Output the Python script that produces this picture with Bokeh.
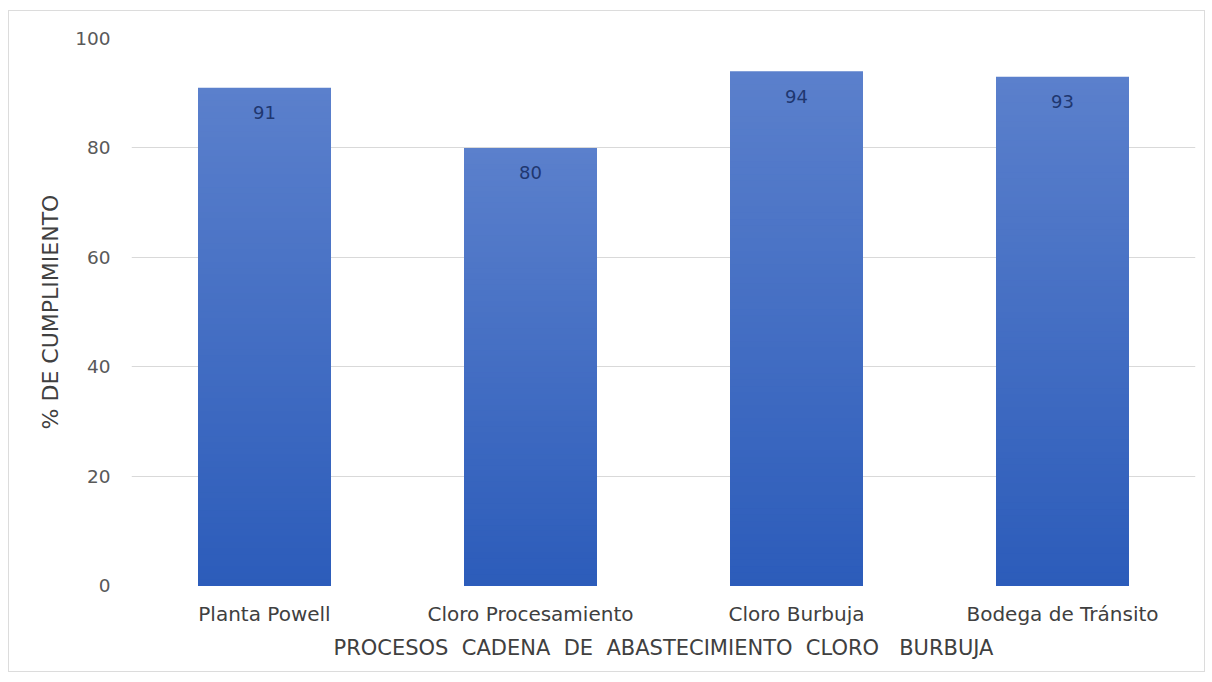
import numpy as np
from bokeh.plotting import figure
from bokeh.models import FactorRange, FixedTicker, ColumnDataSource
from bokeh.core.properties import value
from bokeh.embed import file_html
from bokeh.resources import INLINE

# Compliance per process of the chlorine supply chain
categories = ["Planta Powell", "Cloro Procesamiento", "Cloro Burbuja", "Bodega de Tránsito"]
cumplimiento = [91, 80, 94, 93]
y_ticks = [0, 20, 40, 60, 80, 100]

FONT = "DejaVu Sans"
BOTTOM_RGB = np.array([0x2c, 0x5c, 0xba])
TOP_RGB = np.array([0x5b, 0x80, 0xcc])
N_SLICES = 80
NB = "\u00a0"

p = figure(
    x_range=FactorRange(*categories, range_padding=0.0),
    y_range=(0, 100),
    frame_width=1064, frame_height=547,
    min_border_left=122, min_border_right=9,
    min_border_top=27, min_border_bottom=86,
    output_backend="svg", toolbar_location=None,
    background_fill_color="white", border_fill_color="white",
)
p.margin = (10, 0, 0, 8)
p.styles = {"border": "1px solid #dcdcdc"}
p.outline_line_color = None

# Vertical gradient bars: every bar is painted as a set of rectangles that all
# start at zero, tallest (lightest) first, so the shorter darker ones cover
# the lower part and the colour fades from the base to the top of the bar.
xs, tops, colors = [], [], []
for cat, v in zip(categories, cumplimiento):
    edges = np.linspace(0, v, N_SLICES + 1)[1:]
    for i in range(N_SLICES - 1, -1, -1):
        t = (i + 0.5) / N_SLICES
        rgb = (BOTTOM_RGB + (TOP_RGB - BOTTOM_RGB) * t).round().astype(int)
        xs.append(cat)
        tops.append(edges[i])
        colors.append("#%02x%02x%02x" % tuple(rgb))

order = np.argsort([-t for t in tops], kind="stable")
bars = ColumnDataSource(dict(
    x=[xs[k] for k in order],
    top=[tops[k] for k in order],
    color=[colors[k] for k in order],
))
p.vbar(x="x", bottom=0, top="top", width=0.5, source=bars,
       fill_color="color", line_color=None)

labels = ColumnDataSource(dict(x=categories, y=cumplimiento,
                               t=[str(v) for v in cumplimiento]))
p.text(x="x", y="y", text="t", source=labels, y_offset=25,
       text_align="center", text_baseline="middle",
       text_font=value(FONT), text_font_size="18px", text_color="#1f3770")

# Axes
p.yaxis.ticker = FixedTicker(ticks=y_ticks)
p.yaxis.axis_line_color = None
p.yaxis.major_tick_line_color = None
p.yaxis.minor_tick_line_color = None
p.yaxis.major_tick_out = 0
p.yaxis.major_label_standoff = 21
p.yaxis.major_label_text_font = FONT
p.yaxis.major_label_text_font_size = "18.5px"
p.yaxis.major_label_text_color = "#595959"
p.yaxis.axis_label = "% DE CUMPLIMIENTO"
p.yaxis.axis_label_text_font = FONT
p.yaxis.axis_label_text_font_size = "22px"
p.yaxis.axis_label_text_font_style = "normal"
p.yaxis.axis_label_text_color = "#404040"
p.yaxis.axis_label_standoff = 9

p.xaxis.axis_line_color = None
p.xaxis.major_tick_line_color = None
p.xaxis.minor_tick_line_color = None
p.xaxis.major_tick_out = 0
p.xaxis.major_label_standoff = 16
p.xaxis.major_label_text_font = FONT
p.xaxis.major_label_text_font_size = "20px"
p.xaxis.major_label_text_color = "#404040"
p.xaxis.axis_label = (
    f"PROCESOS{NB*2}CADENA{NB*2}DE{NB*2}ABASTECIMIENTO{NB*2}CLORO{NB*3}BURBUJA"
)
p.xaxis.axis_label_text_font = FONT
p.xaxis.axis_label_text_font_size = "21px"
p.xaxis.axis_label_text_font_style = "normal"
p.xaxis.axis_label_text_color = "#404040"
p.xaxis.axis_label_standoff = 7

p.xgrid.grid_line_color = None
p.ygrid.grid_line_color = "#d9d9d9"
p.ygrid.grid_line_width = 1

open("out.html", "w").write(file_html(p, INLINE))
